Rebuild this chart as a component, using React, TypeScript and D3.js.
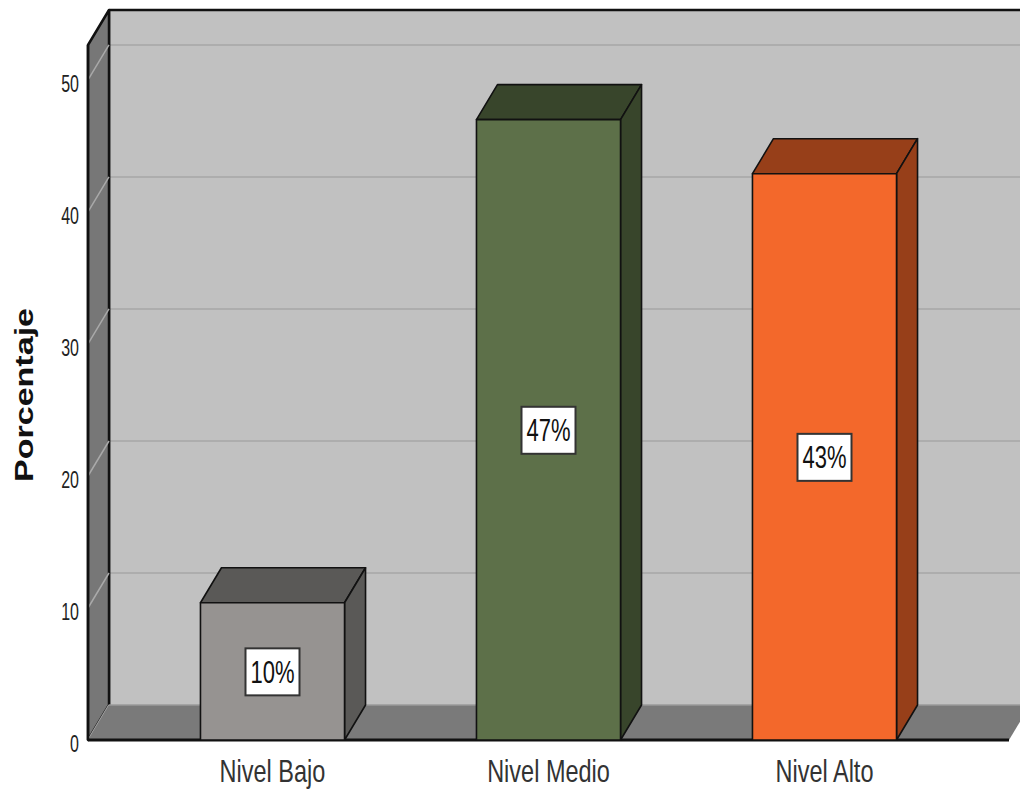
import React from "react";
import * as d3 from "d3";

const categories = ["Nivel Bajo", "Nivel Medio", "Nivel Alto"];
const values = [10.4, 47.0, 42.9];
const labels = ["10%", "47%", "43%"];
const yTicks = [0, 10, 20, 30, 40, 50];
const frontColors = ["#969391", "#5d7049", "#f3682b"];
const darkColors = ["#5a5957", "#38452b", "#973f19"];

const W = 1020;
const H = 792;
const DX = 21;
const DY = -35;
const FONT = "'Liberation Sans', Arial, sans-serif";

export default function App() {
  const y = d3.scaleLinear().domain([0, 52.65]).range([740, 45]);
  const x = d3
    .scaleBand<string>()
    .domain(categories)
    .range([88, 1009])
    .paddingInner(0.478)
    .paddingOuter(0.4075);

  const x0 = 88;
  const x1 = 1009;
  const y0 = y(0);
  const yTop = y(52.65);
  const bw = x.bandwidth();

  const pts = (a: number[][]) => a.map((p) => p.join(",")).join(" ");

  return (
    <svg
      width={W}
      height={H}
      style={{ position: "absolute", left: 0, top: 0, background: "#fff" }}
    >
      {/* back wall */}
      <rect
        x={x0 + DX}
        y={yTop + DY}
        width={x1 - x0 + 20}
        height={y0 - yTop}
        fill="#c1c1c1"
      />
      {yTicks
        .filter((t) => t > 0)
        .map((t) => (
          <line
            key={"g" + t}
            x1={x0 + DX}
            x2={x1 + DX + 20}
            y1={y(t) + DY}
            y2={y(t) + DY}
            stroke="#adadad"
            strokeWidth={2}
          />
        ))}
      <line
        x1={x0 + DX}
        x2={W + 10}
        y1={yTop + DY}
        y2={yTop + DY}
        stroke="#111"
        strokeWidth={2.5}
      />
      <line
        x1={x0 + DX}
        x2={x0 + DX}
        y1={yTop + DY}
        y2={y0 + DY}
        stroke="#111"
        strokeWidth={2.5}
      />
      {/* left wall */}
      <polygon
        points={pts([
          [x0, yTop],
          [x0 + DX, yTop + DY],
          [x0 + DX, y0 + DY],
          [x0, y0],
        ])}
        fill="#777777"
        stroke="#111"
        strokeWidth={2.5}
        strokeLinejoin="round"
      />
      {yTicks.map((t) => (
        <line
          key={"d" + t}
          x1={x0}
          y1={y(t)}
          x2={x0 + DX}
          y2={y(t) + DY}
          stroke="#a9a9a9"
          strokeWidth={1.5}
        />
      ))}
      {/* floor */}
      <polygon
        points={pts([
          [x0, y0],
          [x0 + DX, y0 + DY],
          [x1 + DX, y0 + DY],
          [x1, y0],
        ])}
        fill="#7a7a7a"
      />
      <line
        x1={x0 + DX}
        x2={x1 + DX + 20}
        y1={y0 + DY}
        y2={y0 + DY}
        stroke="#9a9a9a"
        strokeWidth={1.5}
      />
      <line x1={x0} x2={x1} y1={y0} y2={y0} stroke="#111" strokeWidth={3} />
      <line x1={x0} x2={x0} y1={yTop} y2={y0} stroke="#111" strokeWidth={2.5} />

      {/* bars */}
      {categories.map((c, i) => {
        const bx = x(c)!;
        const by = y(values[i]);
        return (
          <g key={c} stroke="#111" strokeWidth={1.6} strokeLinejoin="round">
            <polygon
              points={pts([
                [bx, by],
                [bx + DX, by + DY],
                [bx + bw + DX, by + DY],
                [bx + bw, by],
              ])}
              fill={darkColors[i]}
            />
            <polygon
              points={pts([
                [bx + bw, by],
                [bx + bw + DX, by + DY],
                [bx + bw + DX, y0 + DY],
                [bx + bw, y0],
              ])}
              fill={darkColors[i]}
            />
            <rect x={bx} y={by} width={bw} height={y0 - by} fill={frontColors[i]} />
          </g>
        );
      })}

      {/* value labels */}
      {categories.map((c, i) => {
        const cx = x(c)! + bw / 2;
        const cy = (y(values[i]) + y0) / 2;
        return (
          <g key={"l" + c}>
            <rect
              x={cx - 27}
              y={cy - 23}
              width={54}
              height={47}
              fill="#fff"
              stroke="#333"
              strokeWidth={2}
            />
            <text
              transform={`translate(${cx},${cy + 11.5}) scale(1,1.45)`}
              textAnchor="middle"
              fontFamily={FONT}
              fontSize={22}
              fill="#111"
            >
              {labels[i]}
            </text>
          </g>
        );
      })}

      {/* y ticks */}
      {yTicks.map((t) => (
        <text
          key={"t" + t}
          transform={`translate(79,${y(t) + 12}) scale(1,1.5)`}
          textAnchor="end"
          fontFamily={FONT}
          fontSize={16}
          fill="#222"
        >
          {t}
        </text>
      ))}

      {/* category labels */}
      {categories.map((c) => (
        <text
          key={"c" + c}
          transform={`translate(${x(c)! + bw / 2},782) scale(1,1.3)`}
          textAnchor="middle"
          fontFamily={FONT}
          fontSize={23.5}
          fill="#333"
        >
          {c}
        </text>
      ))}

      {/* y title */}
      <text
        transform="translate(33,395) rotate(-90) scale(1.31,1)"
        textAnchor="middle"
        fontFamily={FONT}
        fontWeight="bold"
        fontSize={26}
        fill="#111"
      >
        Porcentaje
      </text>
    </svg>
  );
}
